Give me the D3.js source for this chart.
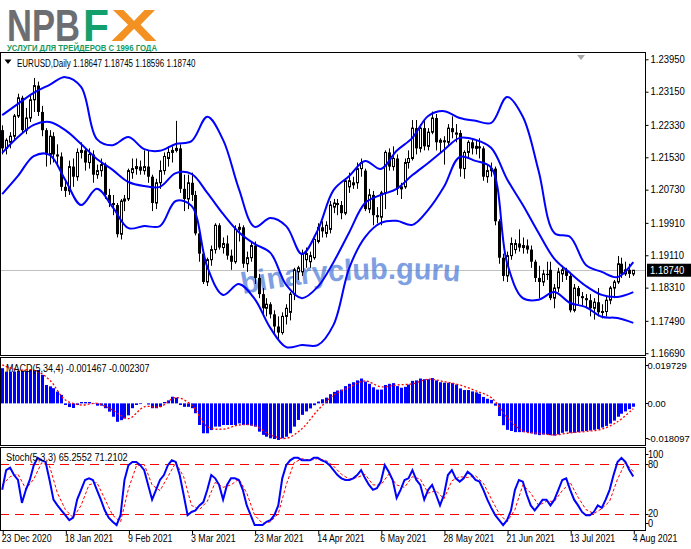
<!DOCTYPE html>
<html><head><meta charset="utf-8">
<script src="https://cdn.jsdelivr.net/npm/d3@7/dist/d3.min.js"></script>
<style>
body{margin:0;background:#fff}
svg text{font-family:"Liberation Sans",Arial,sans-serif}
</style></head>
<body><svg id="c" width="691" height="549"></svg>
<script>
// ---------------- DATA ----------------
const symbolTitle = "EURUSD,Daily";
const lastQuote = ["1.18647","1.18745","1.18596","1.18740"];
const lastPrice = 1.1874;
const tickIdx = [0,16,32,48,64,80,96,112,128,144,160];
const tickLabels = ["23 Dec 2020","18 Jan 2021","9 Feb 2021","3 Mar 2021","23 Mar 2021","14 Apr 2021","6 May 2021","28 May 2021","21 Jun 2021","13 Jul 2021","4 Aug 2021"];
const priceTicks = [1.2395,1.2315,1.2233,1.2153,1.2073,1.1991,1.1911,1.1831,1.1749,1.1669];
const macdTicks = [0.019729,0,-0.018097];
const macdTickLabels = ["0.019729","0.00","-0.018097"];
const stochTicks = [100,80,20,0];
const stochLevels = [80,20];

// daily candles [open, high, low, close]
const ohlc = [
[1.2220,1.2232,1.2160,1.2175],[1.2175,1.2200,1.2160,1.2195],[1.2190,1.2215,1.2175,1.2205],[1.2205,1.2260,1.2195,1.2255],
[1.2255,1.2310,1.2250,1.2300],[1.2300,1.2305,1.2215,1.2220],[1.2220,1.2275,1.2210,1.2250],[1.2250,1.2305,1.2240,1.2295],
[1.2295,1.2349,1.2265,1.2330],[1.2330,1.2340,1.2255,1.2265],[1.2265,1.2280,1.2205,1.2220],[1.2220,1.2225,1.2130,1.2160],
[1.2160,1.2220,1.2135,1.2205],[1.2205,1.2215,1.2140,1.2160],[1.2160,1.2185,1.2130,1.2155],[1.2155,1.2165,1.2070,1.2080],
[1.2080,1.2095,1.2055,1.2070],[1.2070,1.2145,1.2060,1.2130],[1.2130,1.2150,1.2080,1.2105],[1.2105,1.2175,1.2095,1.2165],
[1.2165,1.2190,1.2150,1.2170],[1.2170,1.2175,1.2120,1.2140],[1.2140,1.2175,1.2125,1.2160],[1.2160,1.2170,1.2090,1.2110],
[1.2110,1.2135,1.2100,1.2120],[1.2120,1.2150,1.2105,1.2135],[1.2135,1.2140,1.2050,1.2060],[1.2060,1.2075,1.2030,1.2040],
[1.2040,1.2060,1.2010,1.2035],[1.2035,1.2040,1.1955,1.1963],[1.1963,1.2050,1.1950,1.2045],[1.2045,1.2060,1.2020,1.2050],
[1.2050,1.2125,1.2045,1.2120],[1.2115,1.2150,1.2100,1.2125],[1.2125,1.2150,1.2110,1.2130],[1.2130,1.2145,1.2110,1.2120],
[1.2120,1.2170,1.2110,1.2130],[1.2130,1.2170,1.2090,1.2105],[1.2105,1.2110,1.2020,1.2040],[1.2040,1.2100,1.2025,1.2090],
[1.2090,1.2145,1.2075,1.2120],[1.2120,1.2165,1.2110,1.2155],[1.2150,1.2180,1.2130,1.2165],[1.2165,1.2180,1.2140,1.2170],
[1.2170,1.2243,1.2165,1.2175],[1.2175,1.2185,1.2065,1.2075],[1.2075,1.2110,1.2020,1.2050],[1.2050,1.2110,1.2025,1.2090],
[1.2090,1.2115,1.2045,1.2060],[1.2060,1.2070,1.1960,1.1965],[1.1965,1.1975,1.1895,1.1915],[1.1915,1.1925,1.1840,1.1845],
[1.1845,1.1905,1.1835,1.1900],[1.1900,1.1935,1.1885,1.1925],[1.1925,1.1990,1.1915,1.1985],[1.1985,1.1990,1.1925,1.1930],
[1.1930,1.1955,1.1915,1.1940],[1.1940,1.1960,1.1900,1.1910],[1.1910,1.1925,1.1875,1.1895],[1.1895,1.1985,1.1890,1.1975],
[1.1975,1.1990,1.1945,1.1980],[1.1980,1.1985,1.1880,1.1890],[1.1890,1.1920,1.1870,1.1905],[1.1905,1.1945,1.1895,1.1935],
[1.1935,1.1945,1.1840,1.1855],[1.1855,1.1865,1.1805,1.1815],[1.1815,1.1830,1.1760,1.1780],[1.1780,1.1805,1.1760,1.1790],
[1.1790,1.1795,1.1755,1.1765],[1.1765,1.1775,1.1715,1.1735],[1.1735,1.1760,1.1704,1.1720],[1.1720,1.1770,1.1715,1.1760],
[1.1760,1.1790,1.1740,1.1780],[1.1770,1.1820,1.1750,1.1815],[1.1815,1.1880,1.1800,1.1875],[1.1870,1.1885,1.1850,1.1880],
[1.1870,1.1925,1.1860,1.1915],[1.1900,1.1930,1.1880,1.1915],[1.1895,1.1920,1.1880,1.1910],[1.1905,1.1955,1.1900,1.1950],
[1.1945,1.1990,1.1940,1.1980],[1.1980,1.1995,1.1955,1.1970],[1.1965,1.1995,1.1955,1.1985],[1.1975,1.2045,1.1965,1.2035],
[1.2030,1.2050,1.2015,1.2040],[1.2040,1.2050,1.2010,1.2035],[1.2035,1.2045,1.2000,1.2015],[1.2015,1.2100,1.2010,1.2095],
[1.2080,1.2115,1.2065,1.2095],[1.2085,1.2105,1.2075,1.2090],[1.2090,1.2140,1.2075,1.2125],[1.2125,1.2150,1.2105,1.2140],
[1.2120,1.2125,1.2020,1.2025],[1.2025,1.2075,1.2015,1.2060],[1.2060,1.2070,1.1985,1.2010],[1.2010,1.2030,1.1990,1.2005],
[1.2005,1.2070,1.1985,1.2065],[1.2065,1.2170,1.2025,1.2165],[1.2165,1.2175,1.2120,1.2130],[1.2130,1.2180,1.2120,1.2150],
[1.2150,1.2160,1.2060,1.2075],[1.2075,1.2090,1.2050,1.2080],[1.2080,1.2150,1.2075,1.2140],[1.2140,1.2170,1.2125,1.2150],
[1.2150,1.2245,1.2145,1.2225],[1.2225,1.2245,1.2160,1.2175],[1.2175,1.2235,1.2165,1.2225],[1.2225,1.2245,1.2170,1.2180],
[1.2180,1.2225,1.2170,1.2215],[1.2215,1.2266,1.2210,1.2250],[1.2250,1.2260,1.2170,1.2190],[1.2190,1.2200,1.2165,1.2195],
[1.2195,1.2205,1.2135,1.2190],[1.2190,1.2235,1.2180,1.2225],[1.2225,1.2254,1.2200,1.2215],[1.2210,1.2235,1.2190,1.2213],
[1.2213,1.2220,1.2105,1.2125],[1.2125,1.2170,1.2100,1.2165],[1.2165,1.2195,1.2150,1.2190],[1.2190,1.2200,1.2160,1.2175],
[1.2175,1.2195,1.2160,1.2180],[1.2180,1.2200,1.2150,1.2175],[1.2175,1.2180,1.2095,1.2105],[1.2105,1.2135,1.2090,1.2120],
[1.2120,1.2140,1.2105,1.2125],[1.2125,1.2130,1.1985,1.1995],[1.1995,1.2000,1.1890,1.1905],[1.1905,1.1915,1.1847,1.1860],
[1.1860,1.1920,1.1845,1.1910],[1.1910,1.1955,1.1900,1.1940],[1.1925,1.1950,1.1915,1.1940],[1.1940,1.1975,1.1920,1.1930],
[1.1930,1.1955,1.1915,1.1935],[1.1935,1.1950,1.1915,1.1925],[1.1925,1.1935,1.1880,1.1895],[1.1895,1.1900,1.1845,1.1855],
[1.1855,1.1885,1.1805,1.1845],[1.1845,1.1875,1.1835,1.1865],[1.1865,1.1895,1.1850,1.1862],[1.1875,1.1895,1.1800,1.1805],
[1.1805,1.1840,1.1780,1.1830],[1.1830,1.1880,1.1820,1.1870],[1.1865,1.1885,1.1845,1.1875],[1.1875,1.1880,1.1850,1.1860],
[1.1860,1.1870,1.1770,1.1775],[1.1775,1.1840,1.1770,1.1830],[1.1830,1.1835,1.1790,1.1810],[1.1810,1.1820,1.1785,1.1805],
[1.1805,1.1815,1.1780,1.1800],[1.1800,1.1815,1.1760,1.1780],[1.1780,1.1805,1.1752,1.1795],[1.1795,1.1830,1.1760,1.1770],
[1.1770,1.1790,1.1755,1.1772],[1.1772,1.1810,1.1760,1.1800],[1.1800,1.1835,1.1790,1.1830],[1.1830,1.1850,1.1805,1.1845],
[1.1845,1.1909,1.1840,1.1890],[1.1890,1.1905,1.1855,1.1865],[1.1865,1.1895,1.1860,1.1875],[1.1875,1.1890,1.1855,1.1865],
[1.18647,1.18745,1.18596,1.18740]
];

// Bollinger bands, read every 4th bar
const bbStep = 4;
const bbUpper = [1.2257,1.2285,1.2312,1.2332,1.2351,1.2327,1.2198,1.2183,1.2203,1.2173,1.2169,1.2186,1.2193,1.2253,1.2196,1.2075,1.1981,1.2003,1.1983,1.1914,1.1973,1.2072,1.2107,1.2144,1.2124,1.2169,1.2201,1.2255,1.2267,1.2250,1.2243,1.2238,1.2302,1.2253,1.2119,1.1966,1.1956,1.1887,1.1870,1.1857,1.1894];
const bbMid = [1.2164,1.2203,1.2233,1.2240,1.2220,1.2186,1.2149,1.2122,1.2092,1.2082,1.2080,1.2114,1.2112,1.2065,1.2013,1.1968,1.1939,1.1917,1.1838,1.1805,1.1833,1.1894,1.1968,1.2040,1.2060,1.2075,1.2109,1.2139,1.2171,1.2201,1.2196,1.2176,1.2099,1.2035,1.1966,1.1902,1.1867,1.1835,1.1813,1.1808,1.1820];
const bbLower = [1.2062,1.2107,1.2156,1.2159,1.2097,1.2035,1.2075,1.2030,1.1978,1.1983,1.1983,1.2045,1.2033,1.1882,1.1813,1.1840,1.1803,1.1731,1.1684,1.1689,1.1689,1.1739,1.1880,1.1956,1.1991,1.1996,1.1986,1.2023,1.2080,1.2154,1.2144,1.2127,1.1892,1.1805,1.1801,1.1820,1.1793,1.1783,1.1759,1.1756,1.1744];

// MACD(5,34,4) histogram per bar, signal every 4th bar
const macdHist = [
0.0153,0.0138,0.0138,0.0138,0.0141,0.0141,0.0141,0.0145,0.0145,0.0145,
0.0124,0.0080,0.0074,0.0066,0.0051,0.0037,-0.0007,-0.0016,-0.0020,-0.0007,
0.0006,0.0006,0.0006,-0.0002,-0.0010,-0.0010,-0.0021,-0.0036,-0.0058,-0.0080,
-0.0073,-0.0066,-0.0052,-0.0021,-0.0007,-0.0003,0.0000,-0.0005,-0.0021,-0.0021,
-0.0015,0.0006,0.0013,0.0029,0.0025,-0.0007,-0.0015,-0.0015,-0.0021,-0.0043,
-0.0094,-0.0130,-0.0130,-0.0116,-0.0101,-0.0101,-0.0094,-0.0094,-0.0094,-0.0094,
-0.0087,-0.0094,-0.0094,-0.0097,-0.0101,-0.0123,-0.0137,-0.0145,-0.0152,-0.0155,
-0.0159,-0.0152,-0.0145,-0.0130,-0.0101,-0.0072,-0.0050,-0.0035,-0.0022,-0.0008,
0.0008,0.0018,0.0025,0.0040,0.0050,0.0056,0.0060,0.0075,0.0085,0.0092,
0.0100,0.0108,0.0095,0.0085,0.0070,0.0060,0.0060,0.0080,0.0085,0.0088,
0.0075,0.0068,0.0072,0.0082,0.0098,0.0100,0.0108,0.0105,0.0105,0.0110,
0.0100,0.0092,0.0090,0.0090,0.0088,0.0082,0.0065,0.0058,0.0058,0.0052,
0.0048,0.0042,0.0028,0.0020,0.0015,-0.0010,-0.0055,-0.0095,-0.0115,-0.0120,
-0.0125,-0.0125,-0.0125,-0.0125,-0.0130,-0.0135,-0.0138,-0.0135,-0.0135,-0.0138,
-0.0140,-0.0135,-0.0128,-0.0122,-0.0128,-0.0128,-0.0125,-0.0122,-0.0120,-0.0118,
-0.0115,-0.0112,-0.0105,-0.0098,-0.0088,-0.0075,-0.0058,-0.0045,-0.0035,-0.0025,
-0.001467];
const macdSigStep = 4;
const macdSignal = [0.0167,0.0145,0.0145,0.0102,0.0015,-0.0007,0.0000,-0.0029,-0.0066,-0.0015,-0.0015,0.0025,-0.0007,-0.0101,-0.0112,-0.0094,-0.0097,-0.0137,-0.0152,-0.0110,-0.0030,0.0035,0.0070,0.0098,0.0072,0.0080,0.0085,0.0105,0.0095,0.0080,0.0055,0.0025,-0.0060,-0.0120,-0.0130,-0.0137,-0.0128,-0.0122,-0.0112,-0.0080,-0.002307];

// Stochastic(5,3,3): main per bar, signal every 2nd bar
const stochMain = [
49,73,76,67,61,33,49,61,79,88, 85,83,61,37,30,24,18,12,15,37,
49,61,63,61,49,37,24,15,10,6, 18,61,79,83,83,79,73,55,37,49,
61,67,79,85,83,67,43,18,22,24, 30,34,49,67,63,55,37,55,63,63,
61,49,30,18,6,6,6,10,12,18, 30,63,79,85,88,88,85,85,85,88,
88,85,83,79,73,67,63,61,61,63, 67,73,63,55,49,51,59,79,71,61,
39,49,61,63,73,61,55,37,49,55, 43,30,43,67,73,63,59,63,71,67,
61,59,49,37,27,18,12,6,12,24, 49,61,59,43,30,24,30,37,37,30,
37,49,61,63,49,37,30,22,18,18, 22,30,27,37,49,67,83,88,83,73,
65.2552];
const stochSigStep = 2;
const stochSignal = [
55,65,68,50,62,82,78,45,25,15, 30,55,58,38,18,10,50,78,80,55,
48,65,82,65,30,25,35,58,52,55, 62,45,18,8,10,20,55,82,87,85,
87,85,78,68,62,64,68,55,55,68, 55,52,65,62,45,48,38,60,65,64,
66,57,38,20,10,25,55,45,30,35, 35,48,58,40,25,20,26,35,62,82,
71.2102];

// ---------------- LAYOUT ----------------
const svg = d3.select("#c");
const P = {l:0, r:645};
const main = {t:53, b:355}, macdP = {t:358, b:445}, stoP = {t:448, b:530};
const x = d3.scaleLinear().domain([-0.56,162.97]).range([P.l,P.r]);
const yMain = d3.scaleLinear().domain([1.16646,1.24106]).range([main.b,main.t]);
const yMacd = d3.scaleLinear().domain([-0.018097,0.019729]).range([macdP.b,macdP.t]);
const ySto = d3.scaleLinear().domain([0,100]).range([stoP.b,stoP.t]);

const defs = svg.append("defs");
[["cm",main],["cd",macdP],["cs",stoP]].forEach(([id,p])=>{
  defs.append("clipPath").attr("id",id).append("rect")
    .attr("x",P.l+1).attr("y",p.t+1).attr("width",P.r-P.l-1).attr("height",p.b-p.t-1);
});

function condense(sel, f){ sel.each(function(){ const L=this.getComputedTextLength(); d3.select(this).attr("textLength",L*f).attr("lengthAdjust","spacingAndGlyphs"); }); }

// ---- Logo ----
const logo = svg.append("g");
function logoLetters(str, x0, w, color){
  const t = logo.append("text").attr("font-size",40).attr("font-weight","bold").attr("fill",color).text(str);
  const L = t.node().getComputedTextLength();
  const fs = 40*w/L;
  const sy = 31.5/(0.716*fs);
  t.attr("font-size",fs).attr("transform",`translate(${x0},40.5) scale(1,${sy})`);
}
logoLetters("NPB",7,73,"#6d6e71");
logoLetters("F",83,26,"#13a06c");
logoLetters("X",111,46,"#f39223");
logo.append("text").attr("x",7).attr("y",50.5).attr("font-size",9.5).attr("font-weight","bold")
  .attr("fill","#159a5e").attr("textLength",150).attr("lengthAdjust","spacingAndGlyphs").text("УСЛУГИ ДЛЯ ТРЕЙДЕРОВ С 1996 ГОДА");

// ---- frames ----
[main,macdP,stoP].forEach(p=>{
  svg.append("rect").attr("x",P.l+0.5).attr("y",p.t-0.5).attr("width",P.r-P.l).attr("height",p.b-p.t+1)
    .attr("fill","none").attr("stroke","#000");
});

// ---- main panel ----
const gM = svg.append("g").attr("clip-path","url(#cm)");
gM.append("line").attr("x1",P.l).attr("x2",P.r).attr("y1",Math.round(yMain(lastPrice))+0.5).attr("y2",Math.round(yMain(lastPrice))+0.5)
  .attr("stroke","#c0c0c0");

// watermark
defs.append("path").attr("id","wmPath").attr("d","M243,294 Q352,272 463,282");
gM.append("text").attr("font-size",30).attr("font-weight","bold").attr("fill","#4d7bd8").attr("opacity",0.72)
  .attr("font-family","'DejaVu Sans',Verdana,sans-serif")
  .append("textPath").attr("href","#wmPath").attr("textLength",218).attr("lengthAdjust","spacingAndGlyphs").text("binaryclub.guru");

const candles = gM.append("g").selectAll("g").data(ohlc).join("g");
candles.append("line")
  .attr("x1",(d,i)=>Math.round(x(i))+0.5).attr("x2",(d,i)=>Math.round(x(i))+0.5)
  .attr("y1",d=>yMain(d[1])).attr("y2",d=>yMain(d[2])).attr("stroke","#000");
candles.append("rect")
  .attr("x",(d,i)=> d[3]>=d[0] ? Math.round(x(i))-0.5 : Math.round(x(i))-1)
  .attr("width",d=> d[3]>=d[0] ? 2 : 3)
  .attr("y",d=>yMain(Math.max(d[0],d[3])))
  .attr("height",d=>Math.max(1,Math.abs(yMain(d[0])-yMain(d[3]))))
  .attr("fill",d=> d[3]>=d[0] ? "#fff" : "#000")
  .attr("stroke",d=> d[3]>=d[0] ? "#000" : "none");

const bbLine = d3.line().x((d,k)=>x(k*bbStep)).y(d=>yMain(d)).curve(d3.curveCatmullRom.alpha(0.5));
[bbUpper,bbMid,bbLower].forEach(arr=>{
  gM.append("path").attr("d",bbLine(arr)).attr("fill","none").attr("stroke","#0000ff").attr("stroke-width",2);
});

// title
svg.append("path").attr("d","M4.5,59.5 L11.5,59.5 L8,64 Z").attr("fill","#000");
const tt = svg.append("text").attr("x",17).attr("y",66.5).attr("font-size",10).attr("fill","#000")
  .text(symbolTitle+"  "+lastQuote.join(" "));
condense(tt,0.8);
// shift marker
svg.append("path").attr("d","M577,55 L585,55 L581,60 Z").attr("fill","#a8a8a8");

// price axis
const ax = svg.append("g").attr("transform",`translate(${P.r+0.5},0)`)
  .call(d3.axisRight(yMain).tickValues(priceTicks).tickSize(3).tickFormat(d3.format(".5f")));
ax.select(".domain").remove();
ax.selectAll("text").attr("font-size",10).attr("font-family","'Liberation Sans',Arial,sans-serif").attr("x",5);
condense(ax.selectAll("text"),0.95);
// current price label
const yl = yMain(lastPrice);
svg.append("rect").attr("x",P.r+2).attr("y",yl-6.5).attr("width",44).attr("height",13).attr("fill","#000");
const pl = svg.append("text").attr("x",P.r+5).attr("y",yl+4).attr("font-size",10).attr("fill","#fff").text(lastQuote[3]);
condense(pl,0.95);

// ---- MACD panel ----
const gD = svg.append("g").attr("clip-path","url(#cd)");
gD.selectAll("rect").data(macdHist).join("rect")
  .attr("x",(d,i)=>Math.round(x(i))-1).attr("width",3)
  .attr("y",d=>yMacd(Math.max(0,d))).attr("height",d=>Math.abs(yMacd(d)-yMacd(0)))
  .attr("fill","#0000ff");
gD.append("path").attr("d",d3.line().x((d,k)=>x(k*macdSigStep)).y(d=>yMacd(d)).curve(d3.curveCatmullRom)(macdSignal))
  .attr("fill","none").attr("stroke","#ff0000").attr("stroke-width",1.3).attr("stroke-dasharray","2,2");
const ml = svg.append("text").attr("x",6).attr("y",372).attr("font-size",10).text("MACD(5,34,4) -0.001467 -0.002307");
condense(ml,0.9);
const mAx = svg.append("g");
macdTicks.forEach((v,k)=>{
  const yy = yMacd(v) + (k===0?7:(k===2?-7:0));
  mAx.append("line").attr("x1",P.r+0.5).attr("x2",P.r+3.5).attr("y1",Math.round(yy)+0.5).attr("y2",Math.round(yy)+0.5).attr("stroke","#000");
  mAx.append("text").attr("x",P.r+2.5).attr("y",yy+3.5).attr("font-size",9.4).text(macdTickLabels[k]);
});

// ---- Stochastic panel ----
const gS = svg.append("g").attr("clip-path","url(#cs)");
stochLevels.forEach(v=>{
  gS.append("line").attr("x1",P.l).attr("x2",P.r).attr("y1",Math.round(ySto(v))+0.5).attr("y2",Math.round(ySto(v))+0.5)
    .attr("stroke","#ff0000").attr("stroke-dasharray","9,6");
});
gS.append("path").attr("d",d3.line().x((d,k)=>x(k*stochSigStep)).y(d=>ySto(d))(stochSignal))
  .attr("fill","none").attr("stroke","#ff0000").attr("stroke-width",1).attr("stroke-dasharray","3,2");
gS.append("path").attr("d",d3.line().x((d,i)=>x(i)).y(d=>ySto(d))(stochMain))
  .attr("fill","none").attr("stroke","#0000ff").attr("stroke-width",2);
const sl = svg.append("text").attr("x",6).attr("y",461).attr("font-size",10).text("Stoch(5,3,3) 65.2552 71.2102");
condense(sl,0.92);
stochTicks.forEach(v=>{
  const yy = ySto(v) + (v===100?6:(v===0?-7:0));
  svg.append("line").attr("x1",P.r+0.5).attr("x2",P.r+3.5).attr("y1",Math.round(yy)+0.5).attr("y2",Math.round(yy)+0.5).attr("stroke","#000");
  const t = svg.append("text").attr("x",P.r+3).attr("y",yy+3.5).attr("font-size",10).text(String(v));
  condense(t,0.92);
});

// ---- time axis ----
const tx = svg.append("g").attr("transform",`translate(0,${stoP.b+0.5})`)
  .call(d3.axisBottom(x).tickValues(tickIdx).tickSize(4).tickFormat((d,k)=>tickLabels[k]));
tx.select(".domain").remove();
tx.selectAll(".tick line").attr("transform","translate(0.5,0)");
tx.selectAll("text").attr("font-size",10).attr("font-family","'Liberation Sans',Arial,sans-serif")
  .attr("text-anchor","start").attr("dx",-1).attr("y",4.5);
condense(tx.selectAll("text"),0.88);
</script></body></html>
